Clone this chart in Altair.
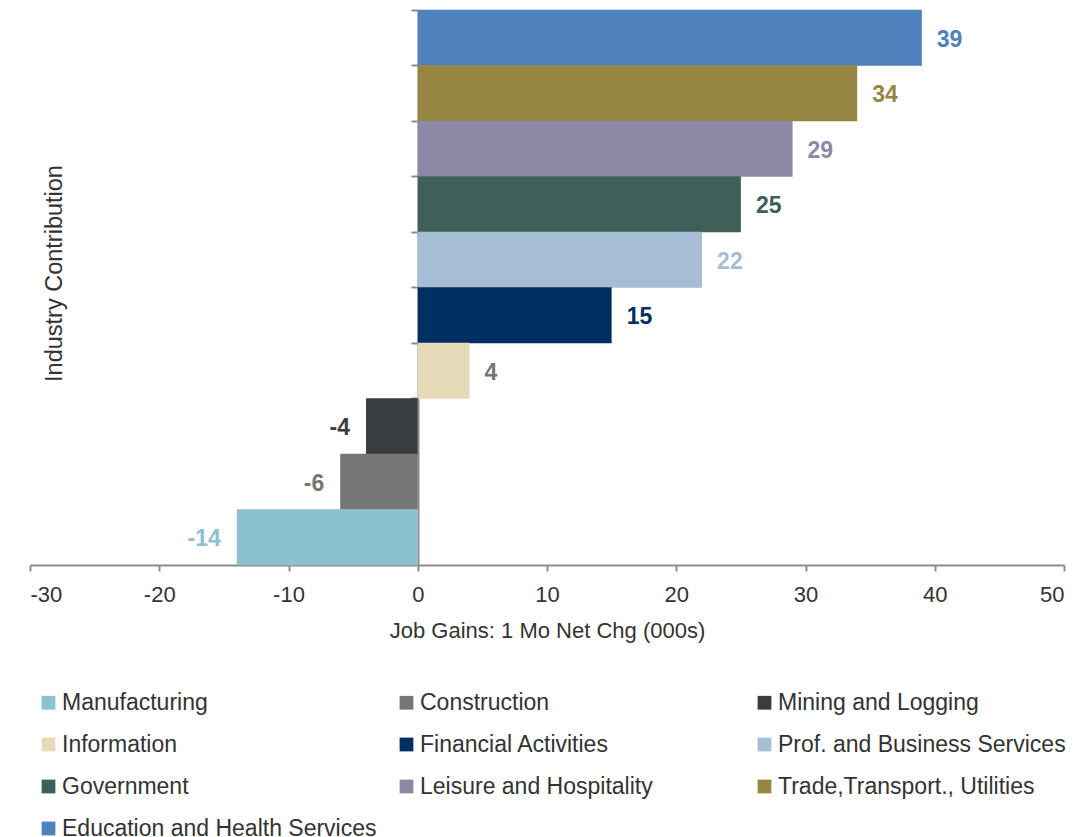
import altair as alt
import pandas as pd

# Data (top-to-bottom order of bars)
industries = [
    "Education and Health Services",
    "Trade,Transport., Utilities",
    "Leisure and Hospitality",
    "Government",
    "Prof. and Business Services",
    "Financial Activities",
    "Information",
    "Mining and Logging",
    "Construction",
    "Manufacturing",
]
values = [39, 34, 29, 25, 22, 15, 4, -4, -6, -14]
bar_colors = ["#4F81BD", "#968641", "#8C89A7", "#3F5F59", "#A7BDD6",
              "#002F61", "#E5D9B7", "#393D42", "#767676", "#8CC1CF"]
label_colors = ["#4F81BD", "#968641", "#8C89A7", "#3F5F59", "#A7BDD6",
                "#002F61", "#767676", "#393D42", "#767676", "#8CC1CF"]
x_ticks = [-30, -20, -10, 0, 10, 20, 30, 40, 50]

legend_order = list(reversed(industries))
legend_colors = list(reversed(bar_colors))

df = pd.DataFrame({
    "industry": industries,
    "value": values,
    "label": [str(v) for v in values],
    "label_color": label_colors,
})

FONT = "Liberation Sans"

y_enc = alt.Y(
    "industry:N",
    sort=industries,
    scale=alt.Scale(paddingInner=0, paddingOuter=0),
    axis=alt.Axis(
        title="Industry Contribution",
        labels=False,
        ticks=True,
        bandPosition=0,
        tickSize=7,
        tickWidth=2,
        tickColor="#8C8C8C",
        domainColor="#8C8C8C",
        domainWidth=2,
        offset=-388,
        grid=False,
        titleX=-364,
        titleY=263,
        titleAngle=270,
        titleAlign="center",
        titleBaseline="middle",
        titleFontSize=23.5,
        titleFontWeight="normal",
        titleColor="#333333",
        titleFont=FONT,
    ),
)

x_enc = alt.X(
    "value:Q",
    scale=alt.Scale(domain=[-30, 50], nice=False, zero=False),
    axis=alt.Axis(
        title="Job Gains: 1 Mo Net Chg (000s)",
        values=x_ticks,
        labelExpr="toString(datum.value)",
        tickSize=6,
        tickWidth=2,
        tickColor="#8C8C8C",
        domainColor="#8C8C8C",
        domainWidth=2,
        grid=False,
        labelFontSize=22,
        labelColor="#333333",
        labelFont=FONT,
        labelPadding=13,
        titleFontSize=22,
        titleFontWeight="normal",
        titleColor="#333333",
        titleFont=FONT,
        titlePadding=15,
    ),
)

bars = alt.Chart(df).mark_bar(size=56).encode(
    x=x_enc,
    y=y_enc,
    color=alt.Color(
        "industry:N",
        scale=alt.Scale(domain=legend_order, range=legend_colors),
        legend=alt.Legend(
            title=None,
            orient="none",
            legendX=7,
            legendY=681,
            direction="horizontal",
            columns=3,
            gridAlign="all",
            columnPadding=18,
            rowPadding=18,
            symbolType="square",
            symbolSize=190,
            symbolStrokeWidth=0,
            symbolOffset=0,
            labelOffset=2,
            labelFontSize=23,
            labelFont=FONT,
            labelColor="#333333",
            labelLimit=400,
        ),
    ),
)

pos_labels = alt.Chart(df).transform_filter("datum.value >= 0").mark_text(
    align="left", baseline="middle", dx=15, dy=2, fontSize=23, fontWeight="bold", font=FONT
).encode(
    x="value:Q",
    y=alt.Y("industry:N", sort=industries),
    text="label:N",
    color=alt.Color("label_color:N", scale=None),
)

neg_labels = alt.Chart(df).transform_filter("datum.value < 0").mark_text(
    align="right", baseline="middle", dx=-16, dy=2, fontSize=23, fontWeight="bold", font=FONT
).encode(
    x="value:Q",
    y=alt.Y("industry:N", sort=industries),
    text="label:N",
    color=alt.Color("label_color:N", scale=None),
)

chart = alt.layer(bars, pos_labels, neg_labels).properties(
    width=1034,
    height=555,
    autosize=alt.AutoSizeParams(type="none"),
    padding={"left": 30, "top": 10, "right": 24, "bottom": 272},
).configure(
    font=FONT, background="white"
).configure_view(stroke=None, strokeWidth=0)

chart.save("out.html", embed_options={"renderer": "svg", "actions": False})
